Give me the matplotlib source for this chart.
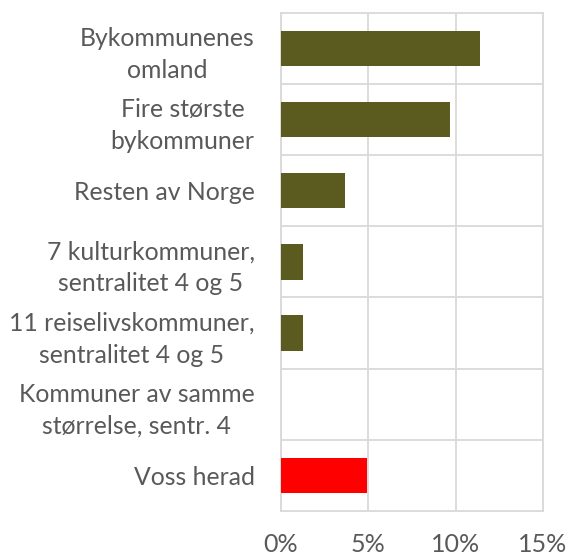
import matplotlib.pyplot as plt
from matplotlib.ticker import FuncFormatter

# data
categories = ['Bykommunenes\nomland', 'Fire største\nbykommuner', 'Resten av Norge',
              '7 kulturkommuner,\nsentralitet 4 og 5', '11 reiselivskommuner,\nsentralitet 4 og 5',
              'Kommuner av samme\nstørrelse, sentr. 4', 'Voss herad']
values = [0.114, 0.0965, 0.0366, 0.0124, 0.0124, 0.0, 0.0495]
colors = ['#5B5A1F'] * 6 + ['#FF0000']
xticks = [0, 0.05, 0.10, 0.15]

plt.rcParams['font.family'] = ['Lato', 'DejaVu Sans']

fig = plt.figure(figsize=(5.71, 5.60), dpi=100)
ax = fig.add_axes([0.492, 0.0875, 0.459, 0.8898])

pos = list(range(len(categories)))
ax.barh(pos, values, height=0.5, color=colors, zorder=3)
ax.set_ylim(len(categories) - 0.5, -0.5)
ax.set_xlim(0, 0.15)
ax.set_xticks(xticks)
ax.xaxis.set_major_formatter(FuncFormatter(lambda v, p: '{:.0f}%'.format(v * 100)))

# horizontal lines between the rows
ax.set_yticks([p + 0.5 for p in pos[:-1]], minor=True)
ax.set_yticks(pos)
ax.set_yticklabels(categories, multialignment='center', linespacing=1.45)
ax.grid(True, which='major', axis='x', color='#D9D9D9', lw=1.3, zorder=0)
ax.grid(True, which='minor', axis='y', color='#D9D9D9', lw=1.3, zorder=0)
ax.tick_params(axis='y', which='both', length=0, pad=19, labelsize=17.8, labelcolor='#595959')
ax.tick_params(axis='x', length=0, pad=16, labelsize=18, labelcolor='#595959')
for s in ax.spines.values():
    s.set_color('#D9D9D9')
    s.set_linewidth(1.3)

fig.savefig('out.png', dpi=100)
